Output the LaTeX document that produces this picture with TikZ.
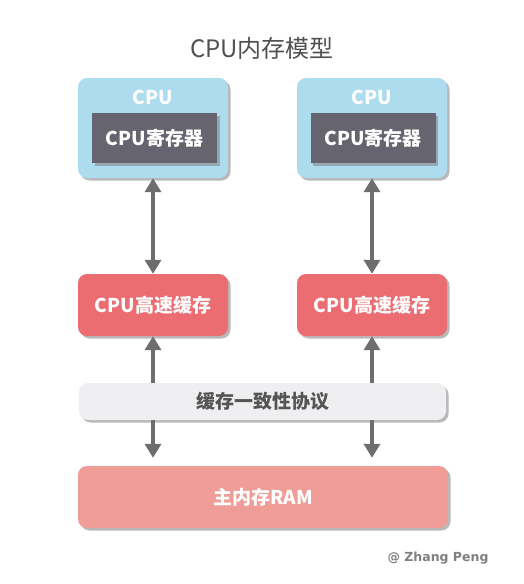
\documentclass[tikz,border=0pt]{standalone}
\usepackage{fontspec}
\newfontfamily\cjk{Noto Sans CJK SC}
\newfontfamily\wmfont{DejaVu Sans}
\usetikzlibrary{shadows,arrows.meta}
\definecolor{cpublue}{HTML}{AEDCEF}
\definecolor{regcol}{HTML}{66646F}
\definecolor{cachecol}{HTML}{EB6C71}
\definecolor{barcol}{HTML}{EFEFF1}
\definecolor{ramcol}{HTML}{F09C97}
\definecolor{arrcol}{HTML}{6E6E6E}
\definecolor{titlecol}{HTML}{505050}
\definecolor{bartext}{HTML}{555555}
\tikzset{
  shad/.style={drop shadow={shadow xshift=2.5pt,shadow yshift=-2.5pt,fill=black!50,opacity=0.55}},
  boxbase/.style={shape=rectangle,inner sep=0pt,font=\cjk\bfseries\fontsize{19}{21}\selectfont,text=white,shad},
  cpubox/.style={boxbase,fill=cpublue,rounded corners=9pt,minimum width=150pt,minimum height=100pt},
  regbox/.style={boxbase,fill=regcol,minimum width=125pt,minimum height=50pt},
  cachebox/.style={boxbase,fill=cachecol,rounded corners=9pt,minimum width=150pt,minimum height=62pt},
  barbox/.style={boxbase,fill=barcol,text=bartext,rounded corners=9pt,minimum width=367pt,minimum height=37pt},
  rambox/.style={boxbase,fill=ramcol,rounded corners=9pt,minimum width=370pt,minimum height=62pt},
  arr/.style={draw=arrcol,line width=4.5pt,-{Triangle[width=16pt,length=14pt]},arrcol},
  darr/.style={draw=arrcol,line width=4.5pt,{Triangle[width=16pt,length=14pt]}-{Triangle[width=16pt,length=14pt]},arrcol},
  lbl/.style={font=\cjk\bfseries\fontsize{19}{21}\selectfont,text=white,inner sep=0pt}
}
\begin{document}
\begin{tikzpicture}[x=1pt,y=-1pt]
\useasboundingbox[fill=white] (0,0) rectangle (523,584);
\node[font=\cjk\fontsize{24}{26}\selectfont,text=titlecol] (title) at (262,48) {CPU内存模型};
% left column
\node[cpubox] (cpu1) at (153,128) {};
\node[lbl] (cpul1) at (153,97) {CPU};
\node[regbox] (reg1) at (154.5,138) {CPU寄存器};
\node[cachebox] (cache1) at (153,305) {CPU高速缓存};
% right column
\node[cpubox] (cpu2) at (372,128) {};
\node[lbl] (cpul2) at (372,97) {CPU};
\node[regbox] (reg2) at (373,138) {CPU寄存器};
\node[cachebox] (cache2) at (372,305) {CPU高速缓存};
% bar and ram
\node[barbox] (bar) at (262.5,401.5) {缓存一致性协议};
\node[rambox] (ram) at (263,497) {主内存RAM};
% arrows
\draw[darr] (cpu1.south) -- (cache1.north);
\draw[darr] (cpu2.south) -- (cache2.north);
\draw[arr] (cache1.south |- bar.north) -- (cache1.south);
\draw[arr] (cache2.south |- bar.north) -- (cache2.south);
\draw[arr,shorten >=8pt] (cache1.south |- bar.south) -- (cache1.south |- ram.north);
\draw[arr,shorten >=8pt] (cache2.south |- bar.south) -- (cache2.south |- ram.north);
\node[font=\wmfont\bfseries\fontsize{12.5}{14}\selectfont,text=black!50,anchor=east] (wm) at (492,558) {@ Zhang Peng};
\end{tikzpicture}
\end{document}
